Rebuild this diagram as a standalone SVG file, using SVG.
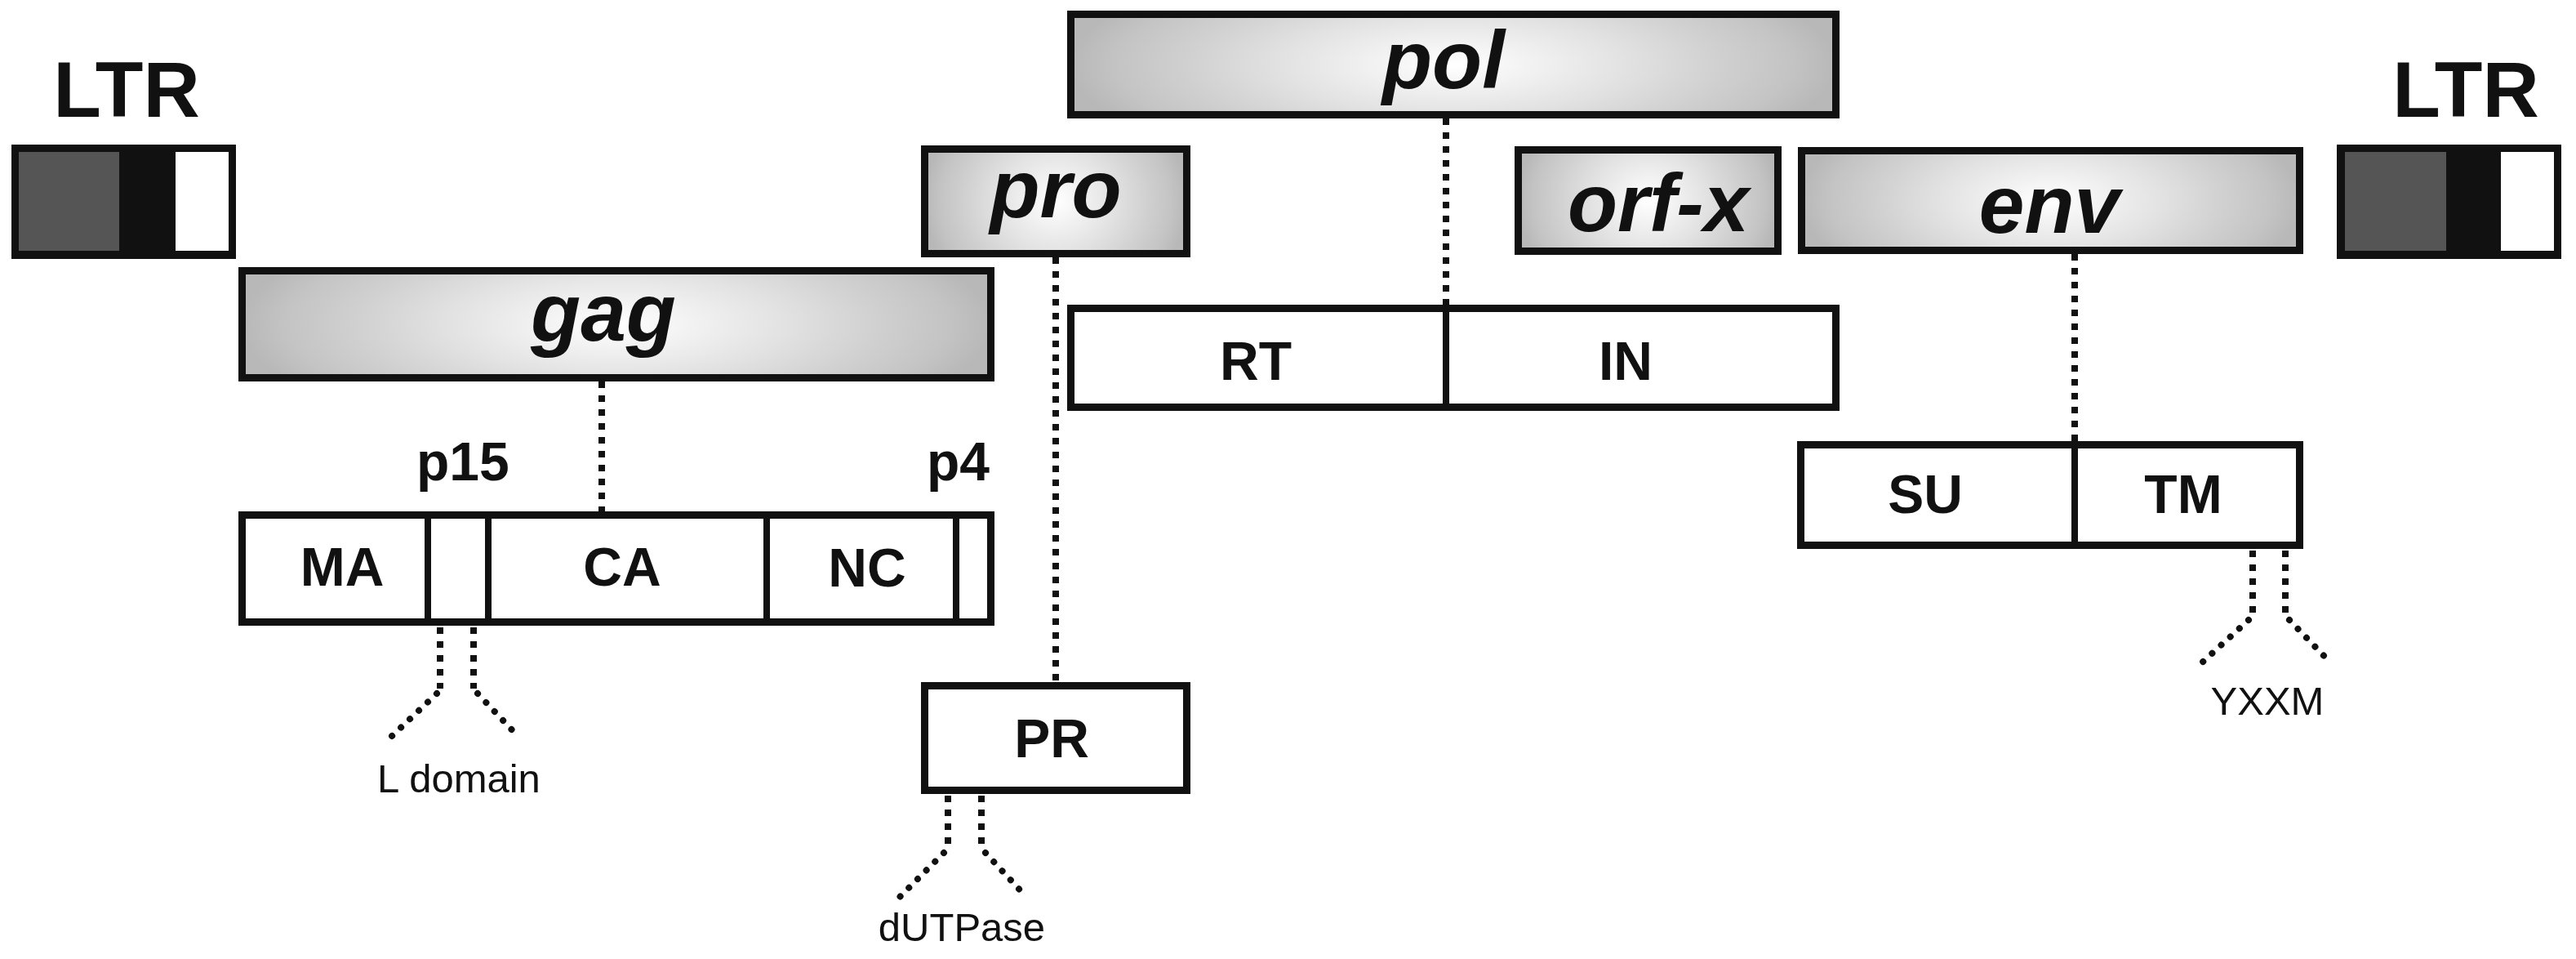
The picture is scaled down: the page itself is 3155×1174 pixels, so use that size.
<svg xmlns="http://www.w3.org/2000/svg" width="3155" height="1174" viewBox="0 0 3155 1174">
<defs>
<radialGradient id="shade" cx="0.5" cy="0.5" r="0.5" gradientTransform="translate(0.5 0.5) scale(1 2.2) translate(-0.5 -0.5)">
<stop offset="0" stop-color="#ffffff"/>
<stop offset="0.2" stop-color="#f2f2f2"/>
<stop offset="0.45" stop-color="#e2e2e2"/>
<stop offset="0.7" stop-color="#d0d0d0"/>
<stop offset="0.88" stop-color="#c4c4c4"/>
<stop offset="1" stop-color="#b8b8b8"/>
</radialGradient>
<style>
.gene{fill:url(#shade);stroke:#111;stroke-width:9}
.prot{fill:#fff;stroke:#111;stroke-width:9}
.div{stroke:#111;stroke-width:8}
.big{font-family:"Liberation Sans",Arial,sans-serif;font-weight:bold;font-style:italic;font-size:100px;fill:#111;text-anchor:middle}
.ltr{font-family:"Liberation Sans",Arial,sans-serif;font-weight:bold;font-size:96px;fill:#111;text-anchor:middle}
.lab{font-family:"Liberation Sans",Arial,sans-serif;font-weight:bold;font-size:66px;fill:#111;text-anchor:middle}
.sm{font-family:"Liberation Sans",Arial,sans-serif;font-size:49px;fill:#111;text-anchor:middle}
.dot{fill:none;stroke:#111;stroke-width:8;stroke-dasharray:8 9}
.diag{fill:none;stroke:#111;stroke-width:8;stroke-linecap:round;stroke-dasharray:0.1 15}
</style>
</defs>
<rect width="3155" height="1174" fill="#fff"/>

<g id="connectors">
<line class="dot" x1="737" y1="467" x2="737" y2="626"/>
<line class="dot" x1="1771" y1="145" x2="1771" y2="373"/>
<line class="dot" x1="1293" y1="315" x2="1293" y2="835"/>
<line class="dot" x1="2541" y1="311" x2="2541" y2="540"/>
<line class="dot" x1="539" y1="768" x2="539" y2="843"/>
<line class="dot" x1="580" y1="768" x2="580" y2="843"/>
<path class="diag" d="M535 849 L479 902"/>
<path class="diag" d="M585 849 L635 902"/>
<line class="dot" x1="1161" y1="974" x2="1161" y2="1038"/>
<line class="dot" x1="1202" y1="974" x2="1202" y2="1038"/>
<path class="diag" d="M1156 1044 L1102 1098"/>
<path class="diag" d="M1207 1044 L1257 1098"/>
<line class="dot" x1="2759" y1="674" x2="2759" y2="753"/>
<line class="dot" x1="2799" y1="674" x2="2799" y2="753"/>
<path class="diag" d="M2754 759 L2696 812"/>
<path class="diag" d="M2804 759 L2855 812"/>
</g>

<g id="ltr-left">
<text class="ltr" x="155" y="143">LTR</text>
<rect x="14" y="177" width="275" height="140" fill="#111"/>
<rect x="23" y="186" width="123" height="121" fill="#555"/>
<rect x="215" y="186" width="65" height="121" fill="#fff"/>
</g>

<g id="ltr-right">
<text class="ltr" x="3020" y="143">LTR</text>
<rect x="2862" y="177" width="275" height="140" fill="#111"/>
<rect x="2872" y="186" width="124" height="121" fill="#555"/>
<rect x="3063" y="186" width="65" height="121" fill="#fff"/>
</g>

<g id="gag">
<rect class="gene" x="296.5" y="331.5" width="917" height="131"/>
<text class="big" x="739" y="417">gag</text>
</g>

<g id="pol">
<rect class="gene" x="1311.5" y="17.5" width="937" height="123"/>
<text class="big" x="1768" y="108">pol</text>
</g>

<g id="pro">
<rect class="gene" x="1132.5" y="182.5" width="321" height="128"/>
<text class="big" x="1293" y="266">pro</text>
</g>

<g id="orf-x">
<rect class="gene" x="1859.5" y="183.5" width="318" height="124"/>
<text class="big" x="2031" y="283">orf-x</text>
</g>

<g id="env">
<rect class="gene" x="2206.5" y="184.5" width="610" height="122"/>
<text class="big" x="2510" y="285">env</text>
</g>

<g id="gag-proteins">
<text class="lab" x="510" y="588" style="text-anchor:start">p15</text>
<text class="lab" x="1212" y="588" style="text-anchor:end">p4</text>
<rect class="prot" x="296.5" y="630.5" width="917" height="131"/>
<line class="div" x1="524" y1="630" x2="524" y2="762"/>
<line class="div" x1="598" y1="630" x2="598" y2="762"/>
<line class="div" x1="939" y1="630" x2="939" y2="762"/>
<line class="div" x1="1171" y1="630" x2="1171" y2="762"/>
<text class="lab" x="419" y="717">MA</text>
<text class="lab" x="762" y="717">CA</text>
<text class="lab" x="1062" y="718">NC</text>
</g>

<g id="pol-proteins">
<rect class="prot" x="1311.5" y="377.5" width="937" height="121"/>
<line class="div" x1="1771" y1="377" x2="1771" y2="499"/>
<text class="lab" x="1538" y="465">RT</text>
<text class="lab" x="1991" y="465">IN</text>
</g>

<g id="pr">
<rect class="prot" x="1132.5" y="839.5" width="321" height="128"/>
<text class="lab" x="1288" y="927">PR</text>
</g>

<g id="env-proteins">
<rect class="prot" x="2205.5" y="544.5" width="611" height="123"/>
<line class="div" x1="2541" y1="544" x2="2541" y2="668"/>
<text class="lab" x="2358" y="628">SU</text>
<text class="lab" x="2674" y="628">TM</text>
</g>

<g id="labels">
<text class="sm" x="562" y="970">L domain</text>
<text class="sm" x="1178" y="1152">dUTPase</text>
<text class="sm" x="2777" y="875">YXXM</text>
</g>
</svg>
